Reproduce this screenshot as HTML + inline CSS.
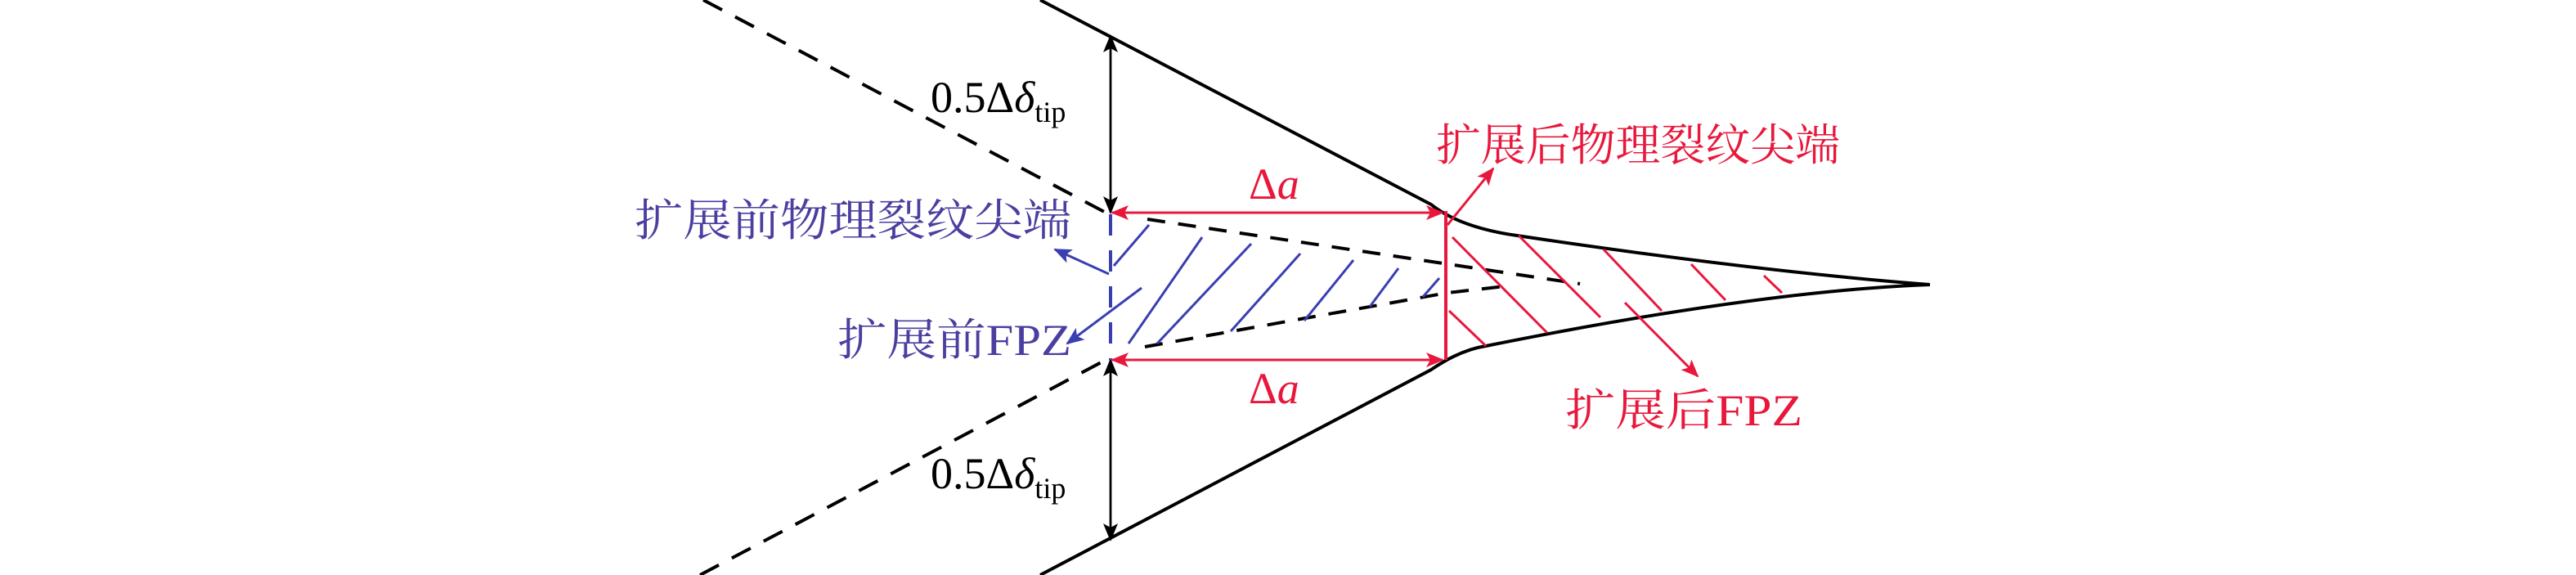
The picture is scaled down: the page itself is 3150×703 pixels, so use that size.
<!DOCTYPE html>
<html><head><meta charset="utf-8"><style>html,body{margin:0;padding:0;background:#fff}svg{display:block}</style></head><body>
<svg width="3150" height="703" viewBox="0 0 3150 703" xmlns="http://www.w3.org/2000/svg">
<defs>
<marker id="ar" markerWidth="22" markerHeight="22" refX="20" refY="11" orient="auto" markerUnits="userSpaceOnUse"><path d="M0,2 L22,11 L0,20 L5,11z" fill="#e8183c"/></marker>
<marker id="ab" markerWidth="22" markerHeight="22" refX="20" refY="11" orient="auto" markerUnits="userSpaceOnUse"><path d="M0,2 L22,11 L0,20 L5,11z" fill="#3a3fb0"/></marker>
<marker id="akb" markerWidth="22" markerHeight="22" refX="20" refY="11" orient="auto" markerUnits="userSpaceOnUse"><path d="M0,2 L22,11 L0,20 L5,11z" fill="#000"/></marker>
</defs>
<g fill="none" stroke="#000" stroke-width="4">
<path d="M860,0 L1356,262" stroke-dasharray="26,18"/>
<path d="M856,703 L1356,438" stroke-dasharray="26,18"/>
<path d="M1272,0 L1750,250 Q1785,278 1855,288 Q2150,332 2360,348"/>
<path d="M1272,703 L1750,452 Q1785,428 1817,423 Q2150,356 2360,348"/>
<path d="M1403,268 L1932,347" stroke-dasharray="22,16"/>
<path d="M1400,424 L1770,358 L1840,350" stroke-dasharray="22,16"/>
</g>
<g stroke="#000" stroke-width="2.5">
<line x1="1358" y1="260" x2="1358" y2="44" marker-end="url(#akb)"/>
<line x1="1358" y1="44" x2="1358" y2="260" marker-end="url(#akb)"/>
<line x1="1358" y1="440" x2="1358" y2="660" marker-end="url(#akb)"/>
<line x1="1358" y1="660" x2="1358" y2="440" marker-end="url(#akb)"/>
</g>
<line x1="1358" y1="262" x2="1358" y2="440" stroke="#3a3fb0" stroke-width="4" stroke-dasharray="26,18"/>
<g stroke="#3a3fb0" stroke-width="3">
<line x1="1362" y1="325" x2="1405" y2="275"/>
<line x1="1380" y1="420" x2="1470" y2="290"/>
<line x1="1415" y1="420" x2="1530" y2="298"/>
<line x1="1505" y1="405" x2="1590" y2="310"/>
<line x1="1595" y1="392" x2="1655" y2="318"/>
<line x1="1675" y1="375" x2="1710" y2="328"/>
<line x1="1740" y1="363" x2="1760" y2="340"/>
</g>
<g stroke="#e8183c" stroke-width="3">
<line x1="1776" y1="290" x2="1892" y2="407"/>
<line x1="1857" y1="288" x2="1957" y2="388"/>
<line x1="1961" y1="305" x2="2032" y2="380"/>
<line x1="2068" y1="323" x2="2110" y2="367"/>
<line x1="2157" y1="337" x2="2179" y2="358"/>
<line x1="1772" y1="380" x2="1817" y2="423"/>
</g>
<line x1="1768" y1="258" x2="1768" y2="440" stroke="#e8183c" stroke-width="4"/>
<g stroke="#e8183c" stroke-width="3">
<line x1="1380" y1="260" x2="1764" y2="260" marker-end="url(#ar)"/>
<line x1="1750" y1="260" x2="1360" y2="260" marker-end="url(#ar)"/>
<line x1="1380" y1="440" x2="1764" y2="440" marker-end="url(#ar)"/>
<line x1="1750" y1="440" x2="1360" y2="440" marker-end="url(#ar)"/>
<line x1="1770" y1="275" x2="1826" y2="206" marker-end="url(#ar)"/>
<line x1="1987" y1="370" x2="2076" y2="460" marker-end="url(#ar)"/>
</g>
<g stroke="#3a3fb0" stroke-width="3">
<line x1="1356" y1="335" x2="1290" y2="305" marker-end="url(#ab)"/>
<line x1="1396" y1="352" x2="1305" y2="420" marker-end="url(#ab)"/>
</g>
<g font-family="'Liberation Serif','Noto Serif CJK SC',serif" font-size="54">
<text x="1138" y="137" fill="#000">0.5Δ<tspan font-style="italic">δ</tspan><tspan font-size="36" dy="12">tip</tspan></text>
<text x="1138" y="597" fill="#000">0.5Δ<tspan font-style="italic">δ</tspan><tspan font-size="36" dy="12">tip</tspan></text>
<text x="1527" y="243" fill="#e8183c">Δ<tspan font-style="italic">a</tspan></text>
<text x="1527" y="493" fill="#e8183c">Δ<tspan font-style="italic">a</tspan></text>
<text x="1756" y="196" fill="#e8183c" textLength="494" lengthAdjust="spacingAndGlyphs">扩展后物理裂纹尖端</text>
<text x="776" y="288" fill="#4a3fa0" textLength="534" lengthAdjust="spacingAndGlyphs">扩展前物理裂纹尖端</text>
<text x="1024" y="434" fill="#4a3fa0" textLength="286" lengthAdjust="spacingAndGlyphs">扩展前FPZ</text>
<text x="1914" y="520" fill="#e8183c" textLength="290" lengthAdjust="spacingAndGlyphs">扩展后FPZ</text>
</g>
</svg>
</body></html>
